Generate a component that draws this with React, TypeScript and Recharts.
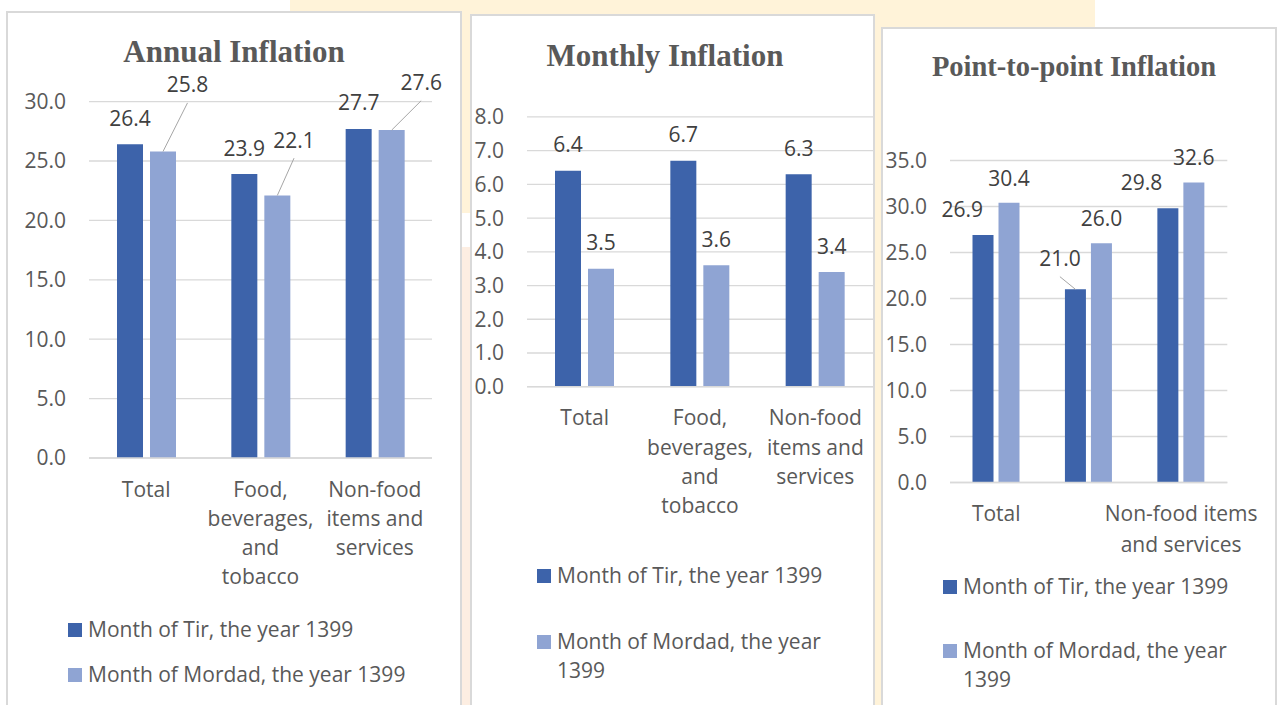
import React from 'react';
import { BarChart, Bar, XAxis, YAxis, CartesianGrid, LabelList } from 'recharts';

const categories = ['Total', 'Food, beverages, and tobacco', 'Non-food items and services'];
const seriesNames = ['Month of Tir, the year 1399', 'Month of Mordad, the year 1399'];

const annualTir = [26.4, 23.9, 27.7];
const annualMordad = [25.8, 22.1, 27.6];
const monthlyTir = [6.4, 6.7, 6.3];
const monthlyMordad = [3.5, 3.6, 3.4];
const pointTir = [26.9, 21.0, 29.8];
const pointMordad = [30.4, 26.0, 32.6];

const annualTicks = [0, 5, 10, 15, 20, 25, 30];
const monthlyTicks = [0, 1, 2, 3, 4, 5, 6, 7, 8];
const pointTicks = [0, 5, 10, 15, 20, 25, 30, 35];

const TIR = '#3d63aa';
const MORDAD = '#8fa4d3';
const GREY = '#595959';
const FONT = '"Open Sans", sans-serif';
const FS = 21;

// where each data label sits: shift from bar centre, height of label centre above bar top
type Place = { dx: number; rise: number; leader?: boolean };
const top26: Place[] = [{ dx: 0, rise: 26 }, { dx: 0, rise: 26 }, { dx: 0, rise: 26 }];

const buildRows = (a: number[], b: number[]) =>
  categories.map((name, i) => ({ name, tir: a[i], mordad: b[i] }));

let ctx: CanvasRenderingContext2D | null = null;
const textWidth = (s: string) => {
  if (!ctx) ctx = document.createElement('canvas').getContext('2d');
  if (!ctx) return s.length * FS * 0.55;
  ctx.font = `${FS}px "Open Sans"`;
  return ctx.measureText(s).width;
};

const wrapWords = (s: string, max: number) => {
  const lines: string[] = [];
  let cur = '';
  s.split(' ').forEach((w) => {
    const next = cur ? cur + ' ' + w : w;
    if (cur && textWidth(next) > max) {
      lines.push(cur);
      cur = w;
    } else cur = next;
  });
  if (cur) lines.push(cur);
  return lines;
};

const makeLabel = (places: Place[]) => (props: any) => {
  const vb = props.viewBox && typeof props.viewBox.x === 'number' ? props.viewBox : props;
  const p = places[props.index] || { dx: 0, rise: 26 };
  const barX = vb.x + vb.width / 2;
  const cx = barX + p.dx;
  const cy = vb.y - p.rise;
  return (
    <g>
      {p.leader && <line x1={cx} y1={cy + 18} x2={barX} y2={vb.y} stroke="#a6a6a6" strokeWidth={1} />}
      <text x={cx} y={cy} dy="0.36em" textAnchor="middle" fill="#404040"
        style={{ fontSize: FS, fontFamily: FONT }}>
        {Number(props.value).toFixed(1)}
      </text>
    </g>
  );
};

const CategoryTick = (props: any) => {
  const { x, y, payload, index, wrap, lh, hidden } = props;
  if (hidden.includes(index)) return <g />;
  const lines = wrapWords(String(payload.value), wrap);
  return (
    <text x={x} y={y + 14.5} textAnchor="middle" fill={GREY} style={{ fontSize: FS, fontFamily: FONT }}>
      {lines.map((l, i) => (
        <tspan key={i} x={x} dy={i === 0 ? 0 : lh}>{l}</tspan>
      ))}
    </text>
  );
};

interface PanelProps {
  title: string;
  titleSize: number;
  titleX: number;
  titleY: number;
  box: { left: number; top: number; width: number };
  chart: { left: number; top: number; width: number; yWidth: number; margin: any };
  rows: any[];
  ticks: number[];
  wrap: number;
  lh: number;
  hidden: number[];
  catGap: number;
  barGap: number;
  tirPlaces: Place[];
  mordadPlaces: Place[];
  legend: { sqX: number; textX: number; y1: number; y2: number; width: number };
}

const Panel: React.FC<PanelProps> = (p) => {
  const max = p.ticks[p.ticks.length - 1];
  return (
    <>
      <div style={{ position: 'absolute', left: p.box.left, top: p.box.top, width: p.box.width, height: 720,
        boxSizing: 'border-box', border: '2px solid #d9d9d9', background: '#fff' }} />
      <div style={{ position: 'absolute', left: p.titleX - 200, top: p.titleY - 20, width: 400, textAlign: 'center',
        fontFamily: '"Liberation Serif", serif', fontWeight: 'bold', fontSize: p.titleSize, lineHeight: '40px', color: GREY }}>
        {p.title}
      </div>
      <div style={{ position: 'absolute', left: p.chart.left, top: p.chart.top }}>
        <BarChart width={p.chart.width} height={600} data={p.rows} margin={p.chart.margin}
          barCategoryGap={p.catGap} barGap={p.barGap}>
          <CartesianGrid vertical={false} stroke="#d9d9d9" strokeWidth={1.3} />
          <XAxis dataKey="name" interval={0} height={120} tickSize={0} tickMargin={24}
            axisLine={{ stroke: '#d9d9d9', strokeWidth: 1.5 }} tickLine={false}
            tick={(t: any) => <CategoryTick {...t} wrap={p.wrap} lh={p.lh} hidden={p.hidden} />} />
          <YAxis width={p.chart.yWidth} domain={[0, max]} ticks={p.ticks} interval={0}
            axisLine={false} tickLine={false} tickSize={0} tickMargin={23}
            tickFormatter={(v: number) => v.toFixed(1)}
            tick={{ fill: GREY, fontSize: FS, fontFamily: FONT }} />
          <Bar dataKey="tir" fill={TIR} isAnimationActive={false}>
            <LabelList dataKey="tir" content={makeLabel(p.tirPlaces)} />
          </Bar>
          <Bar dataKey="mordad" fill={MORDAD} isAnimationActive={false}>
            <LabelList dataKey="mordad" content={makeLabel(p.mordadPlaces)} />
          </Bar>
        </BarChart>
      </div>
      {[TIR, MORDAD].map((c, i) => {
        const cy = i === 0 ? p.legend.y1 : p.legend.y2;
        return (
          <React.Fragment key={c}>
            <div style={{ position: 'absolute', left: p.legend.sqX, top: cy - 7, width: 14, height: 14, background: c }} />
            <div style={{ position: 'absolute', left: p.legend.textX, top: cy - 15, width: p.legend.width,
              fontFamily: FONT, fontSize: FS, lineHeight: '29px', color: GREY }}>
              {seriesNames[i]}
            </div>
          </React.Fragment>
        );
      })}
    </>
  );
};

export default function App() {
  return (
    <div style={{ position: 'absolute', left: 0, top: 0, width: 1277, height: 705, overflow: 'hidden', background: '#fff' }}>
      <div style={{ position: 'absolute', left: 290, top: 0, width: 805, height: 213, background: '#fff3d9',
        borderRadius: '0 0 40px 40px' }} />
      <div style={{ position: 'absolute', left: 440, top: 247, width: 40, height: 470, background: '#fdeee2' }} />
      <div style={{ position: 'absolute', left: 860, top: 0, width: 35, height: 705, background: '#fff3d9' }} />

      <Panel
        title="Annual Inflation" titleSize={31} titleX={234} titleY={52}
        box={{ left: 6, top: 11, width: 456 }}
        chart={{ left: 8, top: 13, width: 452, yWidth: 60, margin: { top: 88.6, right: 28, left: 21, bottom: 35 } }}
        rows={buildRows(annualTir, annualMordad)} ticks={annualTicks}
        wrap={108} lh={29.3} hidden={[]} catGap={28} barGap={7}
        tirPlaces={top26}
        mordadPlaces={[{ dx: 24.5, rise: 66.6, leader: true }, { dx: 16.7, rise: 55.3, leader: true }, { dx: 29.5, rise: 47.4, leader: true }]}
        legend={{ sqX: 68, textX: 88, y1: 630, y2: 675, width: 370 }}
      />
      <Panel
        title="Monthly Inflation" titleSize={31} titleX={665} titleY={56}
        box={{ left: 470, top: 14, width: 405 }}
        chart={{ left: 472, top: 16, width: 401, yWidth: 50, margin: { top: 100.9, right: 0, left: 5, bottom: 109.3 } }}
        rows={buildRows(monthlyTir, monthlyMordad)} ticks={monthlyTicks}
        wrap={108} lh={29.3} hidden={[]} catGap={28} barGap={7}
        tirPlaces={top26} mordadPlaces={top26}
        legend={{ sqX: 537, textX: 557, y1: 576, y2: 642, width: 280 }}
      />
      <Panel
        title="Point-to-point Inflation" titleSize={28.5} titleX={1074} titleY={67}
        box={{ left: 881, top: 27, width: 396 }}
        chart={{ left: 883, top: 29, width: 394, yWidth: 60, margin: { top: 131.5, right: 49.7, left: 7, bottom: 26.5 } }}
        rows={buildRows(pointTir, pointMordad)} ticks={pointTicks}
        wrap={165} lh={30.5} hidden={[1]} catGap={22.5} barGap={5}
        tirPlaces={[{ dx: -20.8, rise: 26 }, { dx: -15.5, rise: 30.6, leader: true }, { dx: -26.3, rise: 25.5 }]}
        mordadPlaces={[{ dx: 0, rise: 24.7 }, { dx: 0, rise: 25 }, { dx: 0, rise: 25.6 }]}
        legend={{ sqX: 943, textX: 963, y1: 587, y2: 651, width: 300 }}
      />
    </div>
  );
}
